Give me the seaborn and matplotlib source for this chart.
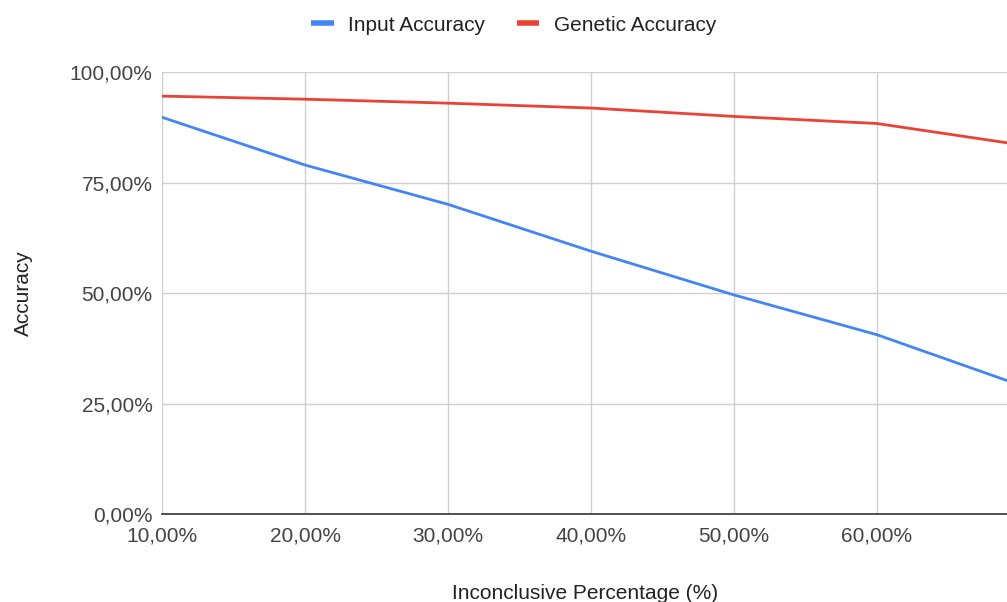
import matplotlib
matplotlib.use("Agg")
import matplotlib.pyplot as plt
import seaborn as sns
import pandas as pd
from matplotlib.ticker import FuncFormatter, FixedLocator
from matplotlib.lines import Line2D

inconclusive = [10, 20, 30, 40, 50, 60, 70]
input_accuracy = [89.8, 79.0, 70.1, 59.5, 49.6, 40.6, 29.2]
genetic_accuracy = [94.6, 93.9, 93.0, 91.9, 90.0, 88.4, 83.6]
series_names = ["Input Accuracy", "Genetic Accuracy"]
x_ticks = [10, 20, 30, 40, 50, 60]
y_ticks = [0, 25, 50, 75, 100]

df = pd.DataFrame({
    "x": inconclusive * 2,
    "y": input_accuracy + genetic_accuracy,
    "series": [series_names[0]] * len(inconclusive) + [series_names[1]] * len(inconclusive),
})

sns.set_theme(style="white")
plt.rcParams["font.family"] = ["Liberation Sans", "DejaVu Sans"]

colors = {series_names[0]: "#4285F4", series_names[1]: "#EA4335"}
FS = 15

fig = plt.figure(figsize=(10.07, 6.02), dpi=100)
ax = fig.add_axes([0.161, 0.146, 0.839, 0.734])

sns.lineplot(data=df, x="x", y="y", hue="series", palette=colors, linewidth=2.0,
             ax=ax, legend=False, clip_on=True)

ax.set_xlim(10, 69.1)
ax.set_ylim(0, 100)
ax.xaxis.set_major_locator(FixedLocator(x_ticks))
ax.yaxis.set_major_locator(FixedLocator(y_ticks))
fmt = FuncFormatter(lambda v, p: f"{v:.2f}".replace(".", ",") + "%")
ax.xaxis.set_major_formatter(fmt)
ax.yaxis.set_major_formatter(fmt)

ax.grid(True, color="#d0d0d0", linewidth=1.0)
ax.set_axisbelow(True)
for s in ["top", "right", "left"]:
    ax.spines[s].set_visible(False)
ax.spines["bottom"].set_color("#333333")
ax.spines["bottom"].set_linewidth(1.2)
ax.spines["bottom"].set_zorder(3)

ax.tick_params(axis="both", length=0, labelsize=FS, colors="#444444")
ax.tick_params(axis="y", pad=7)
ax.tick_params(axis="x", pad=9)
ax.set_xlabel("Inconclusive Percentage (%)", fontsize=FS, color="#222222", labelpad=28)
ax.set_ylabel("Accuracy", fontsize=FS, color="#222222", labelpad=26)

handles = [Line2D([0], [0], color=colors[n], linewidth=4, solid_capstyle="butt") for n in series_names]
fig.legend(handles, series_names, loc="center", bbox_to_anchor=(0.510, 0.958), ncol=2,
           frameon=False, fontsize=FS, handlelength=1.1, columnspacing=1.5,
           handletextpad=0.7, labelcolor="#222222")

fig.savefig("out.png", dpi=100)
